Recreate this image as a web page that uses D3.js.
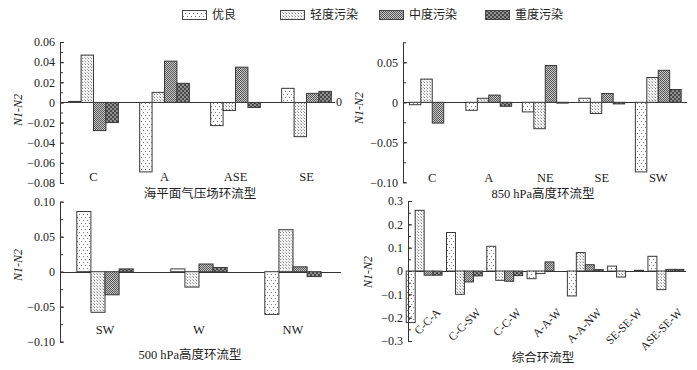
<!DOCTYPE html>
<html>
<head>
<meta charset="utf-8">
<script src="https://cdn.jsdelivr.net/npm/d3@7"></script>
<style>
  body { margin: 0; background: #fff; }
  text { font-family: "Liberation Serif", "Noto Sans CJK SC", serif; fill: #222; }
</style>
</head>
<body>
<div id="chart"></div>
<script>
// series (legend order)
const seriesNames = ["优良", "轻度污染", "中度污染", "重度污染"];

// sea level pressure types
const slpTypes = ["C", "A", "ASE", "SE"];
const slpGood = [0.001, -0.069, -0.023, 0.014];
const slpLight = [0.047, 0.010, -0.008, -0.034];
const slpMid = [-0.028, 0.041, 0.035, 0.009];
const slpHeavy = [-0.020, 0.019, -0.005, 0.011];
const slpTicks = [0.06, 0.04, 0.02, 0, -0.02, -0.04, -0.06, -0.08];
const slpTickLabels = ["0.06", "0.04", "0.02", "0", "\u22120.02", "\u22120.04", "\u22120.06", "\u22120.08"];

// 850 hPa types
const h850Types = ["C", "A", "NE", "SE", "SW"];
const h850Good = [-0.003, -0.010, -0.012, 0.005, -0.087];
const h850Light = [0.029, 0.005, -0.033, -0.014, 0.031];
const h850Mid = [-0.026, 0.009, 0.046, 0.011, 0.040];
const h850Heavy = [0, -0.005, -0.001, -0.002, 0.016];
const h850Ticks = [0.05, 0, -0.05, -0.10];
const h850TickLabels = ["0.05", "0", "\u22120.05", "\u22120.10"];

// 500 hPa types
const h500Types = ["SW", "W", "NW"];
const h500Good = [0.086, 0.004, -0.061];
const h500Light = [-0.058, -0.022, 0.060];
const h500Mid = [-0.033, 0.011, 0.007];
const h500Heavy = [0.004, 0.006, -0.007];
const h500Ticks = [0.10, 0.05, 0, -0.05, -0.10];
const h500TickLabels = ["0.10", "0.05", "0", "\u22120.05", "\u22120.10"];

// combined types
const combTypes = ["C-C-A", "C-C-SW", "C-C-W", "A-A-W", "A-A-NW", "SE-SE-W", "ASE-SE-W"];
const combGood = [-0.221, 0.165, 0.106, -0.033, -0.107, 0.021, 0.063];
const combLight = [0.260, -0.100, -0.040, -0.011, 0.079, -0.026, -0.080];
const combMid = [-0.018, -0.047, -0.044, 0.039, 0.027, 0, 0.007];
const combHeavy = [-0.018, -0.021, -0.020, 0, 0.006, 0.003, 0.007];
const combTicks = [0.3, 0.2, 0.1, 0, -0.1, -0.2, -0.3];
const combTickLabels = ["0.3", "0.2", "0.1", "0", "\u22120.1", "\u22120.2", "\u22120.3"];

const W = 697, H = 370;
const svg = d3.select("#chart").append("svg")
    .attr("width", W)
    .attr("height", H);

// fill patterns
const defs = svg.append("defs");
function checker(id, bg, fg, size) {
    let p = defs.append("pattern")
        .attr("id", id)
        .attr("patternUnits", "userSpaceOnUse")
        .attr("width", size * 2)
        .attr("height", size * 2);
    p.append("rect").attr("width", size * 2).attr("height", size * 2).attr("fill", bg);
    p.append("rect").attr("width", size).attr("height", size).attr("fill", fg);
    p.append("rect").attr("x", size).attr("y", size).attr("width", size).attr("height", size).attr("fill", fg);
}
// sparse dots for 优良
let pGood = defs.append("pattern")
    .attr("id", "pat0")
    .attr("patternUnits", "userSpaceOnUse")
    .attr("width", 4)
    .attr("height", 6);
pGood.append("rect").attr("width", 4).attr("height", 6).attr("fill", "#fff");
pGood.append("rect").attr("x", 1).attr("y", 1).attr("width", 1).attr("height", 1).attr("fill", "#777");
pGood.append("rect").attr("x", 3).attr("y", 4).attr("width", 1).attr("height", 1).attr("fill", "#777");
// dotted light grey for 轻度
let pLight = defs.append("pattern")
    .attr("id", "pat1")
    .attr("patternUnits", "userSpaceOnUse")
    .attr("width", 3)
    .attr("height", 3);
pLight.append("rect").attr("width", 3).attr("height", 3).attr("fill", "#f2f2f2");
pLight.append("rect").attr("x", 1).attr("y", 1).attr("width", 1).attr("height", 1).attr("fill", "#888");
pLight.append("rect").attr("x", 0).attr("y", 0).attr("width", 1).attr("height", 1).attr("fill", "#bbb");
checker("pat2", "#c4c4c4", "#5a5a5a", 1);
checker("pat3", "#8e8e8e", "#4a4a4a", 2);
const fills = ["url(#pat0)", "url(#pat1)", "url(#pat2)", "url(#pat3)"];

// legend
const legendX = [182, 280, 379, 485];
seriesNames.forEach(function(name, i) {
    svg.append("rect")
        .attr("x", legendX[i] + 0.5)
        .attr("y", 10.5)
        .attr("width", 24)
        .attr("height", 9)
        .attr("fill", fills[i])
        .attr("stroke", "#444");
    svg.append("text")
        .attr("x", legendX[i] + 30)
        .attr("y", 19)
        .attr("font-size", "12px")
        .text(name);
});

function drawPanel(cfg) {
    let g = svg.append("g");
    let y = d3.scaleLinear().domain(cfg.yDomain).range(cfg.yRange);
    let x0 = d3.scaleBand()
        .domain(cfg.cats)
        .range(cfg.xRange)
        .paddingInner(cfg.pad)
        .paddingOuter(cfg.pad / 2);
    let x1 = d3.scaleBand()
        .domain(d3.range(4))
        .range([0, x0.bandwidth()]);

    // zero line
    g.append("line")
        .attr("x1", cfg.axisX)
        .attr("x2", cfg.zeroEnd)
        .attr("y1", Math.round(y(0)) + 0.5)
        .attr("y2", Math.round(y(0)) + 0.5)
        .attr("stroke", "#333")
        .attr("stroke-width", 1);

    // bars
    cfg.cats.forEach(function(c, i) {
        cfg.series.forEach(function(vals, s) {
            let v = vals[i];
            if (v === 0) return;
            let top = Math.min(y(v), y(0));
            g.append("rect")
                .attr("x", x0(c) + x1(s))
                .attr("y", top)
                .attr("width", x1.bandwidth())
                .attr("height", Math.abs(y(v) - y(0)))
                .attr("fill", fills[s])
                .attr("stroke", "#3a3a3a")
                .attr("stroke-width", 1);
        });
    });

    // minor ticks
    let minor = d3.axisLeft(y)
        .tickValues(cfg.minor)
        .tickSizeInner(-3)
        .tickSizeOuter(0)
        .tickFormat("");
    g.append("g")
        .attr("transform", "translate(" + cfg.axisX + ",0)")
        .call(minor)
        .call(function(a) { a.select(".domain").remove(); })
        .selectAll("line").attr("stroke", "#333");

    // major axis
    let yAxis = d3.axisLeft(y)
        .tickValues(cfg.ticks)
        .tickSizeInner(-4)
        .tickSizeOuter(0)
        .tickPadding(5)
        .tickFormat(function(d, i) { return cfg.tickLabels[i]; });
    let ax = g.append("g")
        .attr("transform", "translate(" + cfg.axisX + ",0)")
        .call(yAxis);
    ax.select(".domain").attr("stroke", "#333");
    ax.selectAll("line").attr("stroke", "#333");
    ax.selectAll("text")
        .attr("font-size", "12px")
        .attr("fill", "#222");

    // y title
    g.append("text")
        .attr("transform", "translate(" + cfg.yLabel[0] + "," + cfg.yLabel[1] + ") rotate(-90)")
        .attr("text-anchor", "middle")
        .attr("font-size", "12px")
        .attr("font-style", "italic")
        .text("N1-N2");

    // category labels
    cfg.cats.forEach(function(c) {
        let cx = x0(c) + x0.bandwidth() / 2;
        if (cfg.rotate) {
            g.append("text")
                .attr("transform", "translate(" + (cx + 17) + "," + cfg.labelY + ") rotate(-45)")
                .attr("text-anchor", "end")
                .attr("font-size", "11.5px")
                .text(c);
        } else {
            g.append("text")
                .attr("x", cx)
                .attr("y", cfg.labelY)
                .attr("text-anchor", "middle")
                .attr("font-size", "12.5px")
                .text(c);
        }
    });

    // panel title
    g.append("text")
        .attr("x", cfg.title[1])
        .attr("y", cfg.title[2])
        .attr("text-anchor", "middle")
        .attr("font-size", "12.5px")
        .text(cfg.title[0]);

    return g;
}

let p1 = drawPanel({
    cats: slpTypes,
    series: [slpGood, slpLight, slpMid, slpHeavy],
    yDomain: [-0.08, 0.06], yRange: [183, 42],
    xRange: [58, 342], pad: 0.3,
    axisX: 60, zeroEnd: 335,
    ticks: slpTicks, tickLabels: slpTickLabels,
    minor: d3.range(-0.08, 0.0601, 0.01),
    yLabel: [22, 110], labelY: 181,
    title: ["海平面气压场环流型", 200, 198]
});
// stray zero mark at end of the baseline
p1.append("text")
    .attr("x", 339)
    .attr("y", 106)
    .attr("text-anchor", "middle")
    .attr("font-size", "12px")
    .text("0");

drawPanel({
    cats: h850Types,
    series: [h850Good, h850Light, h850Mid, h850Heavy],
    yDomain: [-0.10, 0.075], yRange: [182.3, 42.3],
    xRange: [404, 686.5], pad: 0.19,
    axisX: 403, zeroEnd: 687,
    ticks: h850Ticks, tickLabels: h850TickLabels,
    minor: d3.range(-0.10, 0.0751, 0.025),
    yLabel: [363, 108], labelY: 182,
    title: ["850 hPa高度环流型", 543, 198]
});

drawPanel({
    cats: h500Types,
    series: [h500Good, h500Light, h500Mid, h500Heavy],
    yDomain: [-0.10, 0.10], yRange: [341.7, 201.7],
    xRange: [58, 340], pad: 0.4,
    axisX: 60, zeroEnd: 341,
    ticks: h500Ticks, tickLabels: h500TickLabels,
    minor: d3.range(-0.10, 0.1001, 0.025),
    yLabel: [22, 265], labelY: 334,
    title: ["500 hPa高度环流型", 190, 359]
});

drawPanel({
    cats: combTypes,
    series: [combGood, combLight, combMid, combHeavy],
    yDomain: [-0.3, 0.3], yRange: [341, 201],
    xRange: [404, 686], pad: 0.11,
    axisX: 408, zeroEnd: 686,
    ticks: combTicks, tickLabels: combTickLabels,
    minor: d3.range(-0.3, 0.3001, 0.05),
    yLabel: [372, 272], labelY: 313, rotate: true,
    title: ["综合环流型", 543, 362]
});
</script>
</body>
</html>
